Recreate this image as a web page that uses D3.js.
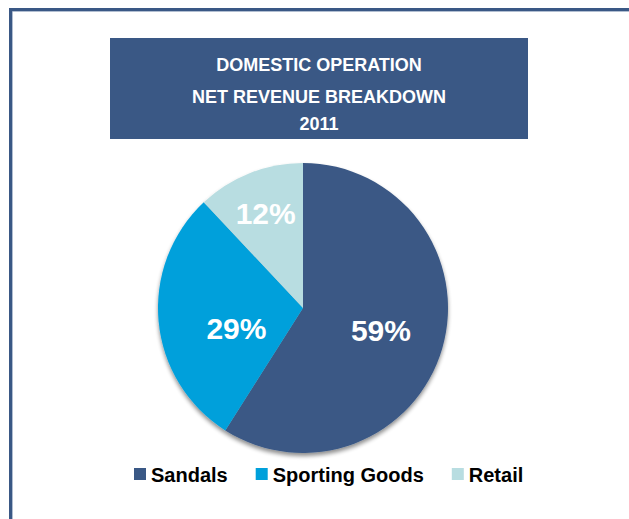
<!DOCTYPE html>
<html>
<head>
<meta charset="utf-8">
<script src="https://cdn.jsdelivr.net/npm/d3@7"></script>
<style>
  html, body { margin: 0; padding: 0; background: #ffffff; }
  svg { display: block; font-family: "Liberation Sans", Arial, sans-serif; }
</style>
</head>
<body>
<svg id="chart" width="629" height="519"></svg>
<script>
// Revenue shares by segment, 2011
const categories = ["Sandals", "Sporting Goods", "Retail"];
const shares = [59, 29, 12];
const titleLines = ["DOMESTIC OPERATION", "NET REVENUE BREAKDOWN", "2011"];

const palette = ["#3a5885", "#00a0db", "#b8dde1"];
const navy = "#3a5885";

const svg = d3.select("#chart");
const W = 629, H = 519;

// frame: top and left rules
svg.append("rect").attr("x", 9).attr("y", 8).attr("width", W - 9).attr("height", 3).attr("fill", navy);
svg.append("rect").attr("x", 9).attr("y", 8).attr("width", 3).attr("height", H - 8).attr("fill", navy);
svg.append("rect").attr("x", 12).attr("y", 11).attr("width", W - 12).attr("height", 1).attr("fill", "#7d93b3").attr("opacity", 0.6);
svg.append("rect").attr("x", 12).attr("y", 11).attr("width", 1).attr("height", H - 11).attr("fill", "#7d93b3").attr("opacity", 0.6);

// title banner
svg.append("rect").attr("x", 110).attr("y", 38).attr("width", 418).attr("height", 101).attr("fill", navy);
const titleBaselines = [71, 103, 130];
svg.append("g").selectAll("text").data(titleLines).join("text")
  .attr("x", 319)
  .attr("y", (d, i) => titleBaselines[i])
  .attr("text-anchor", "middle")
  .attr("fill", "#ffffff")
  .attr("font-weight", "bold")
  .attr("font-size", 18)
  .text(d => d);

// pie
const cx = 303, cy = 308, radius = 145;
const defs = svg.append("defs");
const shadow = defs.append("filter").attr("id", "pieShadow")
  .attr("x", "-20%").attr("y", "-20%").attr("width", "140%").attr("height", "140%");
shadow.append("feGaussianBlur").attr("in", "SourceAlpha").attr("stdDeviation", 2.2).attr("result", "b");
shadow.append("feOffset").attr("in", "b").attr("dx", 0).attr("dy", 3).attr("result", "o");
shadow.append("feComponentTransfer").attr("in", "o").attr("result", "s")
  .append("feFuncA").attr("type", "linear").attr("slope", 0.45);
const merge = shadow.append("feMerge");
merge.append("feMergeNode").attr("in", "s");
merge.append("feMergeNode").attr("in", "SourceGraphic");

const data = categories.map((c, i) => ({ name: c, value: shares[i], color: palette[i] }));
const pie = d3.pie().sort(null).value(d => d.value).startAngle(0).endAngle(2 * Math.PI);
const arcs = pie(data);
const arc = d3.arc().innerRadius(0).outerRadius(radius);

const pieG = svg.append("g").attr("transform", `translate(${cx},${cy})`);
pieG.append("g").attr("filter", "url(#pieShadow)")
  .selectAll("path").data(arcs).join("path")
  .attr("d", arc)
  .attr("fill", d => d.data.color);

// percentage labels, placed along each slice's mid-angle
const labelPlacement = {
  "Sandals": { r: 0.56, turn: 0 },
  "Sporting Goods": { r: 0.48, turn: -0.2 },
  "Retail": { r: 0.70, turn: 0 }
};
pieG.append("g").selectAll("text").data(arcs).join("text")
  .each(function (d) {
    const p = labelPlacement[d.data.name];
    const a = (d.startAngle + d.endAngle) / 2 + p.turn;
    const rr = radius * p.r;
    d3.select(this)
      .attr("x", Math.sin(a) * rr)
      .attr("y", -Math.cos(a) * rr + 30 * 0.36);
  })
  .attr("text-anchor", "middle")
  .attr("fill", "#ffffff")
  .attr("font-weight", "bold")
  .attr("font-size", 30)
  .text(d => d3.format(".0f")(d.data.value) + "%");

// legend
const legend = svg.append("g");
let lx = 134;
data.forEach(d => {
  const item = legend.append("g").attr("transform", `translate(${lx},0)`);
  item.append("rect").attr("x", 0).attr("y", 468).attr("width", 12).attr("height", 12).attr("fill", d.color);
  const t = item.append("text").attr("x", 17).attr("y", 482)
    .attr("font-weight", "bold").attr("font-size", 20).attr("fill", "#000000").text(d.name);
  lx += 17 + t.node().getComputedTextLength() + 28;
});
</script>
</body>
</html>
